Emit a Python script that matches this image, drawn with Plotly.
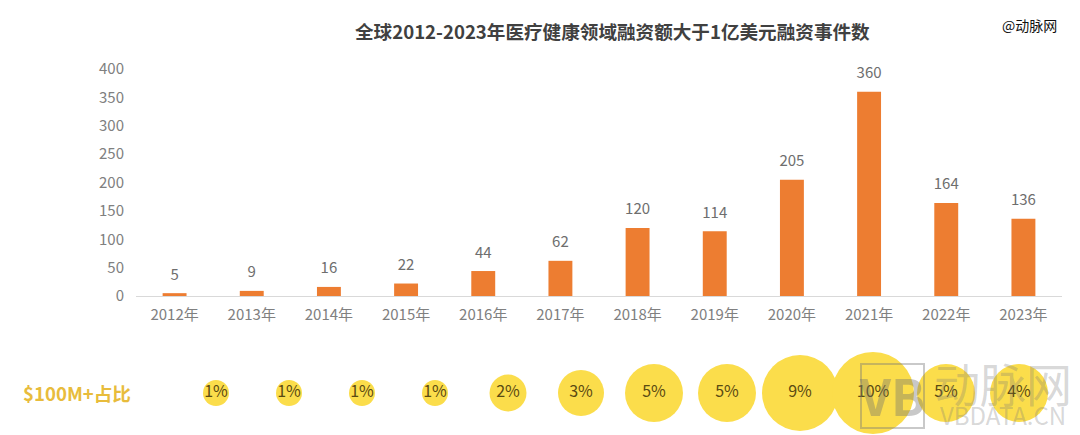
import plotly.graph_objects as go

years = ["2012年", "2013年", "2014年", "2015年", "2016年", "2017年", "2018年", "2019年", "2020年", "2021年", "2022年", "2023年"]
deals = [5, 9, 16, 22, 44, 62, 120, 114, 205, 360, 164, 136]
shares = ["1%", "1%", "1%", "1%", "2%", "3%", "5%", "5%", "9%", "10%", "5%", "4%"]
bubble_diameters = [26, 26, 26, 26, 37, 46, 58, 58, 76, 82, 58, 58]
y_ticks = [0, 50, 100, 150, 200, 250, 300, 350, 400]

W, H = 1080, 435
FONT = "Noto Sans CJK SC, Noto Sans, sans-serif"
GRAY = "#808080"
px = lambda v: v / W
py = lambda v: 1 - v / H

fig = go.Figure()
fig.add_trace(go.Bar(
    x=years, y=deals, marker=dict(color="#ED7D31", line_width=0),
    xaxis="x", yaxis="y", showlegend=False,
))
fig.add_trace(go.Scatter(
    x=years, y=deals, mode="markers+text",
    marker=dict(size=14, color="rgba(0,0,0,0)", line_width=0),
    text=deals, textposition="top center", cliponaxis=False,
    textfont=dict(size=15, color="#6e6e6e", family=FONT),
    xaxis="x", yaxis="y", showlegend=False,
))
fig.add_trace(go.Scatter(
    x=years, y=[0] * len(years), mode="markers+text",
    marker=dict(size=bubble_diameters, sizemode="diameter", color="#FBDD4B", opacity=1, line_width=0),
    text=shares, textposition="middle center",
    textfont=dict(size=16, color="#5a4a12", family=FONT),
    xaxis="x2", yaxis="y2", showlegend=False, cliponaxis=False,
))

annotations = [
    dict(text="<b>全球2012-2023年医疗健康领域融资额大于1亿美元融资事件数</b>", x=px(613), y=py(31),
         font=dict(size=18.6, color="#404040", family=FONT)),
    dict(text="@动脉网", x=px(1029), y=py(25), font=dict(size=14, color="#111111", family=FONT)),
    dict(text="<b>$100M+占比</b>", x=px(77), y=py(392), font=dict(size=18.6, color="#E8BC3C", family=FONT)),
    dict(text="<b>VB</b>", x=px(892), y=py(394), font=dict(size=50, color="rgba(110,110,110,0.38)", family=FONT)),
    dict(text="动脉网", x=px(1003), y=py(382), font=dict(size=46, color="rgba(120,120,120,0.3)", family=FONT)),
    dict(text="VBDATA.CN", x=px(1003), y=py(414), font=dict(size=24, color="rgba(120,120,120,0.3)", family=FONT)),
]
for a in annotations:
    a.update(xref="paper", yref="paper", showarrow=False, xanchor="center", yanchor="middle")

fig.update_layout(
    template="none",
    width=W, height=H, margin=dict(l=0, r=0, t=0, b=0, pad=0), autosize=False,
    paper_bgcolor="white", plot_bgcolor="white", bargap=0.69,
    font=dict(family=FONT),
    annotations=annotations,
    shapes=[dict(type="rect", xref="paper", yref="paper", x0=px(861), x1=px(924), y0=py(428), y1=py(364),
                 line=dict(color="rgba(120,120,120,0.4)", width=2), fillcolor="rgba(0,0,0,0)")],
    xaxis=dict(domain=[px(136), px(1062)], anchor="y", automargin=False, showgrid=False, showline=True,
               linecolor="#D9D9D9", linewidth=1, ticks="", zeroline=False,
               tickfont=dict(size=15, color=GRAY, family=FONT), categoryorder="array",
               categoryarray=years, range=[-0.5, 11.5], ticklabelstandoff=5),
    yaxis=dict(domain=[py(296), py(69)], anchor="x", automargin=False, range=[0, 400], tickvals=y_ticks,
               showgrid=False, zeroline=False, showline=False, ticks="",
               tickfont=dict(size=15, color=GRAY, family=FONT), ticklabelstandoff=11),
    xaxis2=dict(domain=[px(179.5), px(1055.5)], anchor="y2", automargin=False, visible=False,
                categoryorder="array", categoryarray=years, range=[-0.5, 11.5]),
    yaxis2=dict(domain=[py(435), py(351)], anchor="x2", automargin=False, range=[-1, 1], visible=False),
)

fig.write_html("out.html", config=dict(displayModeBar=False), post_script="document.body.style.margin='0';")
